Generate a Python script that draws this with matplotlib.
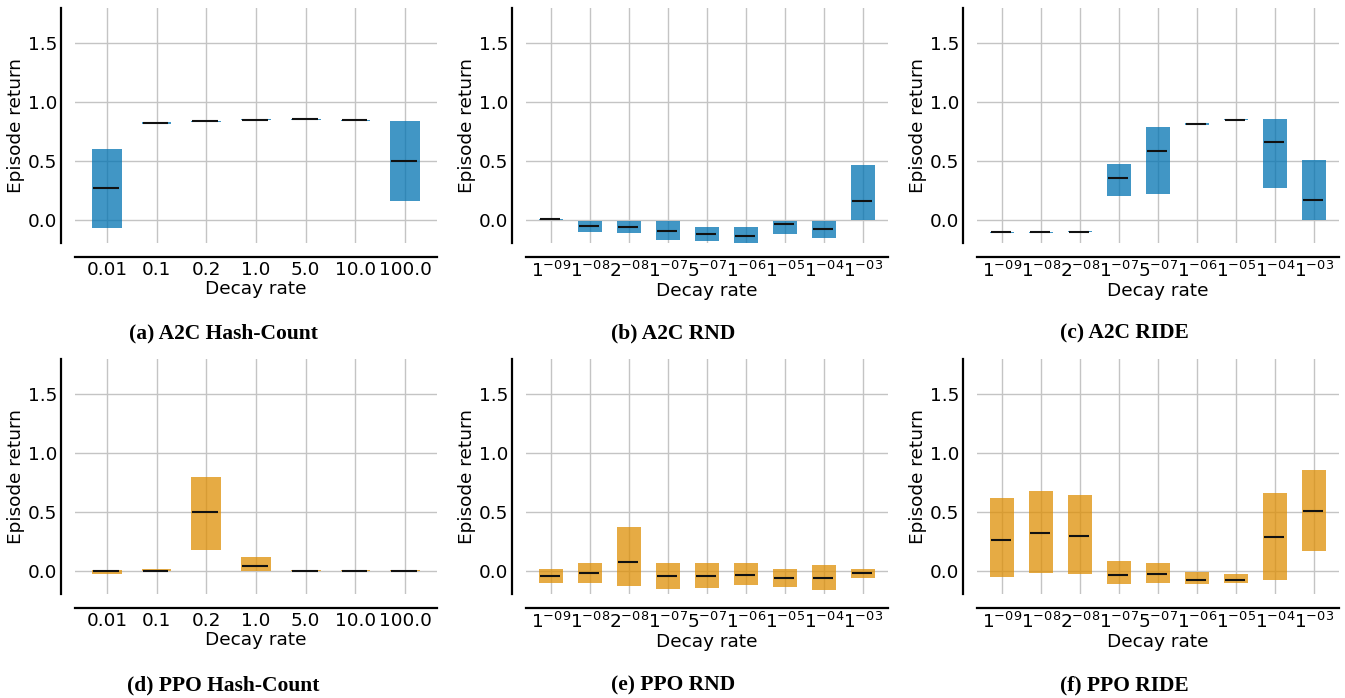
# Episode return vs decay rate, A2C (blue) e PPO (laranja)
import matplotlib
matplotlib.use("Agg")
import matplotlib.pyplot as plt

plt.rcParams["xtick.labelsize"] = 13.3
plt.rcParams["ytick.labelsize"] = 13.3
plt.rcParams["axes.labelsize"] = 13.3

# categorias
hash_rates = ["0.01", "0.1", "0.2", "1.0", "5.0", "10.0", "100.0"]
nn_rates = [r"$1^{-09}$", r"$1^{-08}$", r"$2^{-08}$", r"$1^{-07}$", r"$5^{-07}$",
            r"$1^{-06}$", r"$1^{-05}$", r"$1^{-04}$", r"$1^{-03}$"]

# (low, median, high) por painel
a2c_hash_low = [-0.074, 0.815, 0.831, 0.845, 0.847, 0.840, 0.156]
a2c_hash_med = [0.267, 0.820, 0.835, 0.850, 0.852, 0.843, 0.494]
a2c_hash_high = [0.600, 0.826, 0.840, 0.855, 0.857, 0.846, 0.838]

a2c_rnd_low = [0.000, -0.108, -0.116, -0.176, -0.184, -0.201, -0.125, -0.159, 0.000]
a2c_rnd_med = [0.003, -0.057, -0.060, -0.096, -0.125, -0.142, -0.040, -0.082, 0.156]
a2c_rnd_high = [0.005, -0.009, -0.009, -0.017, -0.060, -0.068, -0.009, -0.009, 0.468]

a2c_ride_low = [-0.115, -0.115, -0.110, 0.204, 0.213, 0.802, 0.845, 0.272, 0.000]
a2c_ride_med = [-0.110, -0.110, -0.106, 0.354, 0.581, 0.814, 0.850, 0.658, 0.170]
a2c_ride_high = [-0.105, -0.105, -0.102, 0.476, 0.791, 0.825, 0.853, 0.853, 0.510]

ppo_hash_low = [-0.026, -0.003, 0.173, 0.000, 0.000, 0.000, 0.000]
ppo_hash_med = [0.000, 0.000, 0.500, 0.037, 0.000, 0.000, 0.000]
ppo_hash_high = [0.006, 0.017, 0.798, 0.111, 0.002, 0.002, 0.002]

ppo_rnd_low = [-0.108, -0.108, -0.134, -0.159, -0.151, -0.125, -0.142, -0.168, -0.065]
ppo_rnd_med = [-0.043, -0.023, 0.071, -0.051, -0.043, -0.037, -0.062, -0.068, -0.023]
ppo_rnd_high = [0.017, 0.060, 0.366, 0.060, 0.060, 0.068, 0.017, 0.051, 0.009]

ppo_ride_low = [-0.057, -0.023, -0.031, -0.116, -0.108, -0.116, -0.108, -0.085, 0.165]
ppo_ride_med = [0.261, 0.318, 0.290, -0.040, -0.028, -0.077, -0.085, 0.284, 0.508]
ppo_ride_high = [0.614, 0.673, 0.639, 0.077, 0.068, -0.017, -0.034, 0.656, 0.852]

captions = ["(a) A2C Hash-Count", "(b) A2C RND", "(c) A2C RIDE",
            "(d) PPO Hash-Count", "(e) PPO RND", "(f) PPO RIDE"]

blue = (1/255, 115/255, 178/255, 0.75)
orange = (222/255, 143/255, 5/255, 0.75)

paineis = [
    (hash_rates, a2c_hash_low, a2c_hash_med, a2c_hash_high, blue),
    (nn_rates, a2c_rnd_low, a2c_rnd_med, a2c_rnd_high, blue),
    (nn_rates, a2c_ride_low, a2c_ride_med, a2c_ride_high, blue),
    (hash_rates, ppo_hash_low, ppo_hash_med, ppo_hash_high, orange),
    (nn_rates, ppo_rnd_low, ppo_rnd_med, ppo_rnd_high, orange),
    (nn_rates, ppo_ride_low, ppo_ride_med, ppo_ride_high, orange),
]

fig = plt.figure(figsize=(13.45, 6.98), dpi=100)

W, H = 1345, 698
lefts = [75, 526, 977]
larg = 362
tops = [8, 359]
alt = 235
cap_x = [223, 673, 1124]
cap_y = [333, 685]

for i, (cats, low, med, high, cor) in enumerate(paineis):
    row, col = divmod(i, 3)
    ax = fig.add_axes([lefts[col] / W, 1 - (tops[row] + alt) / H, larg / W, alt / H])
    x = list(range(len(cats)))
    alturas = [h - l for l, h in zip(low, high)]
    ax.bar(x, alturas, bottom=low, width=0.6, color=cor, zorder=2)
    ax.hlines(med, [xi - 0.28 for xi in x], [xi + 0.24 for xi in x],
              color="#111111", lw=1.5, zorder=3)

    ax.set_xlim(-0.64, len(cats) - 1 + 0.64)
    ax.set_ylim(-0.2, 1.8)
    ax.set_xticks(x)
    ax.set_xticklabels(cats)
    ax.set_yticks([0.0, 0.5, 1.0, 1.5])
    ax.set_yticklabels(["0.0", "0.5", "1.0", "1.5"])
    ax.tick_params(length=0, pad=3, labelsize=13.3)
    ax.grid(True, color="#c4c4c4", lw=1.0, zorder=0)
    ax.set_axisbelow(True)

    for s in ["top", "right"]:
        ax.spines[s].set_visible(False)
    for s in ["left", "bottom"]:
        ax.spines[s].set_position(("outward", 10))
        ax.spines[s].set_linewidth(1.6)
        ax.spines[s].set_color("black")

    ax.set_xlabel("Decay rate", fontsize=13.3, labelpad=0.5)
    ax.set_ylabel("Episode return", fontsize=13.3, labelpad=2)

    fig.text(cap_x[col] / W, 1 - cap_y[row] / H, captions[i], ha="center", va="center",
             fontsize=15.5, fontweight="bold", family="Liberation Serif")

fig.savefig("out.png", dpi=100)
